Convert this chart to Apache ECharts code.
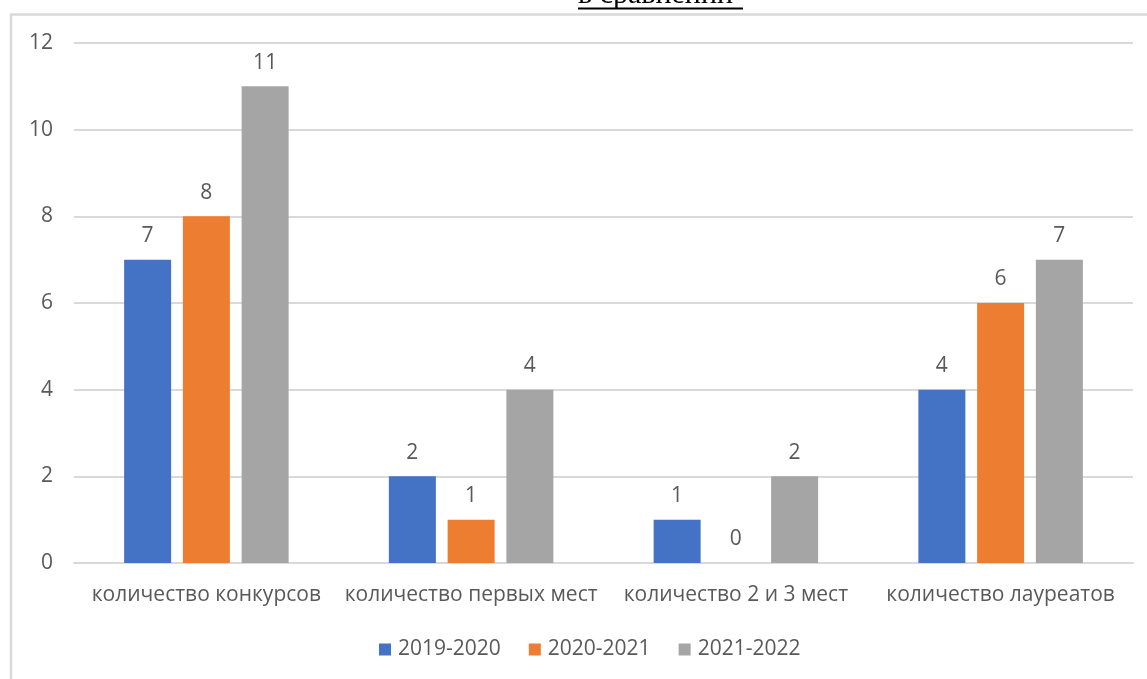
<!DOCTYPE html>
<html><head><meta charset="utf-8">
<script src="https://cdn.jsdelivr.net/npm/echarts@6/dist/echarts.min.js"></script>
<style>html,body{margin:0;padding:0;background:#fff}#c{width:1147px;height:679px}</style>
</head><body><div id="c"></div>
<script>
const categories = ['количество конкурсов', 'количество первых мест', 'количество 2 и 3 мест', 'количество лауреатов'];
const seriesNames = ['2019-2020', '2020-2021', '2021-2022'];
const s2019 = [7, 2, 1, 4];
const s2020 = [8, 1, 0, 6];
const s2021 = [11, 4, 2, 7];
const colors = ['#4472C4', '#ED7D31', '#A5A5A5'];
const yTicks = [0, 2, 4, 6, 8, 10, 12];

const font = '"Open Sans", "Noto Sans", sans-serif';
const chart = echarts.init(document.getElementById('c'));
const data = [s2019, s2020, s2021];
chart.setOption({
  animation: false,
  color: colors,
  graphic: [
    {type: 'rect', shape: {x: 11, y: 14.5, width: 1200, height: 700}, style: {fill: 'none', stroke: '#d9d9d9', lineWidth: 2.5}},
    {type: 'text', x: 578, y: -5, style: {text: 'в сравнении', font: '30px "Liberation Serif", "Times New Roman", serif', fill: '#000', textAlign: 'left', textVerticalAlign: 'middle'}},
    {type: 'line', shape: {x1: 578, y1: 8.5, x2: 743, y2: 8.5}, style: {stroke: '#000', lineWidth: 2}}
  ],
  grid: {left: 74, right: 14, top: 43, bottom: 116},
  legend: {
    top: 634, left: 374, itemWidth: 12, itemHeight: 12, itemGap: 28,
    icon: 'rect',
    textStyle: {color: '#595959', fontSize: 21, fontFamily: font, padding: [0, 0, 0, 2]}
  },
  xAxis: {
    type: 'category', data: categories,
    axisLine: {lineStyle: {color: '#d9d9d9', width: 2}},
    axisTick: {show: false},
    axisLabel: {color: '#595959', fontSize: 21, fontFamily: font, margin: 22, interval: 0}
  },
  yAxis: {
    type: 'value', min: 0, max: 12, interval: 2,
    axisLine: {show: false}, axisTick: {show: false},
    axisLabel: {color: '#595959', fontSize: 21, fontFamily: font, margin: 21},
    splitLine: {lineStyle: {color: '#d9d9d9', width: 2}}
  },
  series: seriesNames.map((n, i) => ({
    name: n, type: 'bar', data: data[i], barWidth: 47, barGap: '25%',
    label: {show: true, position: 'top', distance: 13, color: '#595959', fontSize: 21, fontFamily: font}
  }))
});
</script></body></html>
